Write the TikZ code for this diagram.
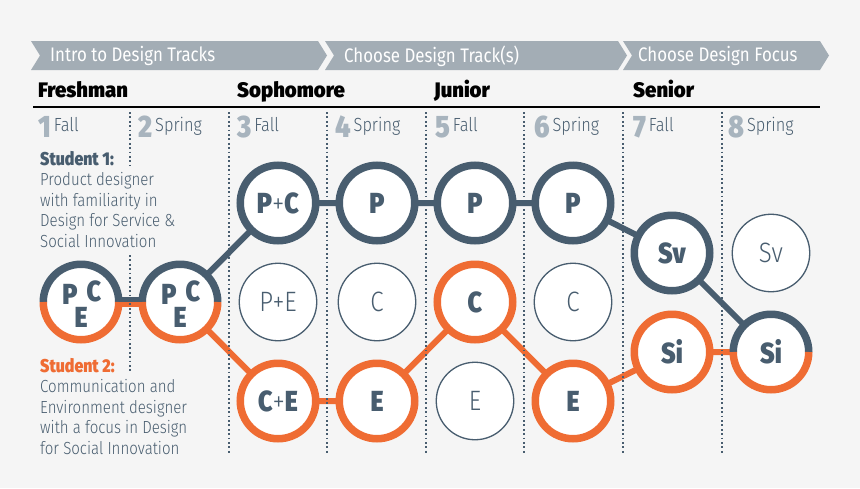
\documentclass[tikz,border=0pt]{standalone}
\usepackage{fontspec}
\setmainfont{Fira Sans}[FakeStretch=0.86]
\newfontfamily\heavyfont{Fira Sans Black}[FakeStretch=0.86]
\newfontfamily\yearfont{Fira Sans Black}[FakeStretch=0.97]
\newfontfamily\lightfont{Fira Sans Light}[FakeStretch=0.86]
\usetikzlibrary{backgrounds}

\definecolor{slate}{RGB}{72,93,111}
\definecolor{orangeb}{RGB}{239,108,51}
\definecolor{bannergrey}{RGB}{163,173,181}
\definecolor{numgrey}{RGB}{168,180,190}
\definecolor{bg}{RGB}{245,245,245}

\newcommand{\pl}{{\lightfont+}}

\tikzset{
  bannertext/.style={anchor=west, inner sep=0, text=white, font=\fontsize{19.6}{19.6}\selectfont},
  year/.style={anchor=base west, inner sep=0, font=\yearfont\fontsize{21}{21}\selectfont},
  semnum/.style={anchor=base west, inner sep=0, text=numgrey, font=\heavyfont\fontsize{31}{31}\selectfont},
  semname/.style={anchor=base west, inner sep=0, text=slate, font=\lightfont\fontsize{19}{19}\selectfont},
  sep/.style={slate, line width=1.8pt, dash pattern=on 1.8pt off 2.6pt},
  student/.style={anchor=north west, inner sep=0, align=left, text=slate, font=\lightfont\fontsize{17.5}{20.5}\selectfont},
  track/.style={circle, line width=7.5pt, fill=white, minimum size=75.5pt, inner sep=0, text=slate, font=\heavyfont\fontsize{29}{29}\selectfont},
  path1/.style={track, draw=slate},
  path2/.style={track, draw=orangeb},
  split/.style={track, outer sep=0},
  faint/.style={circle, draw=slate, line width=1.3pt, fill=white, minimum size=77.5pt, inner sep=0, text=slate, font=\lightfont\fontsize{28}{28}\selectfont},
  letter/.style={inner sep=0, text=slate, font=\heavyfont\fontsize{29}{29}\selectfont},
  link1/.style={slate, line width=6pt},
  link2/.style={orangeb, line width=6pt},
}

\begin{document}
\begin{tikzpicture}[x=1pt, y=-1pt]
\useasboundingbox (0,0) rectangle (860,488);

% banner
\foreach \a/\b in {31/318, 325/618, 623/820}
  \fill[bannergrey] (\a,41) -- (\b,41) -- (\b+9,55.5) -- (\b,70) -- (\a,70) -- (\a+9,55.5) -- cycle;
\node[bannertext] (intro) at (50,56) {Intro to Design Tracks};
\node[bannertext] (track) at (344,56) {Choose Design Track(s)};
\node[bannertext] (focus) at (638,56) {Choose Design Focus};

% years
\node[year] (fresh) at (38,97) {Freshman};
\node[year] (soph) at (237,97) {Sophomore};
\node[year] (jun) at (434,97) {Junior};
\node[year] (sen) at (633,97) {Senior};
\draw[line width=2.5pt] (33,107) -- (820,107);

% semesters
\foreach \i/\x/\s in {1/38/Fall, 2/138/Spring, 3/237/Fall, 4/335/Spring, 5/435/Fall, 6/534/Spring, 7/633/Fall, 8/728/Spring}{
  \node[semnum] (n\i) at (\x,137) {\i};
  \node[semname] (s\i) at ([xshift=2.5pt, yshift=6pt]n\i.base east) {\s};
}

% dotted separators
\foreach \x in {229,327,426,524,623,722}
  \draw[sep] (\x,112) -- (\x,455);
\draw[sep] (130,112) -- (130,166);
\draw[sep] (130,255) -- (130,372);

% students
\node[student] (stud1) at (40,151) {{\heavyfont\fontsize{18.5}{20.5}\selectfont Student 1:}\\Product designer\\with familiarity in\\Design for Service \&\\Social Innovation};
\node[student] (stud2) at (40,358) {{\heavyfont\fontsize{18.5}{20.5}\selectfont\color{orangeb}Student 2:}\\Communication and\\Environment designer\\with a focus in Design\\for Social Innovation};

% circles
\node[split] (pce1) at (81,302) {};
\node[split] (pce2) at (180,302) {};
\node[path1] (pc) at (278,203) {P\pl C};
\node[path1] (p4) at (377,203) {P};
\node[path1] (p5) at (475,203) {P};
\node[path1] (p6) at (573,203) {P};
\node[path1] (sv7) at (672,253) {Sv};
\node[faint] (sv8) at (771,253) {Sv};
\node[faint] (pe3) at (278,302) {P+E};
\node[faint] (c4) at (377,302) {C};
\node[path2] (c5) at (475,302) {C};
\node[faint] (c6) at (573,302) {C};
\node[path2] (ce3) at (278,401) {C\pl E};
\node[path2] (e4) at (377,401) {E};
\node[faint] (e5) at (475,401) {E};
\node[path2] (e6) at (573,401) {E};
\node[path2] (si7) at (672,352) {Si};
\node[split] (si8) at (771,352) {Si};

% split rings
\foreach \n in {pce1,pce2,si8}{
  \draw[slate, line width=7.5pt] (\n.east) arc[start angle=0, end angle=180, radius=37.75pt];
  \draw[orangeb, line width=7.5pt] (\n.west) arc[start angle=180, end angle=360, radius=37.75pt];
}
\foreach \n in {pce1,pce2}{
  \node[letter] at ([xshift=-11pt, yshift=8pt]\n.center) {P};
  \node[letter] at ([xshift=13pt, yshift=11pt]\n.center) {C};
  \node[letter] at ([yshift=-15pt]\n.center) {E};
}

% connectors
\begin{scope}[on background layer]
\fill[bg] (0,0) rectangle (860,488);
\draw[slate, line width=5pt] ([yshift=2.5pt]pce1.center) -- ([yshift=2.5pt]pce2.center);
\draw[orangeb, line width=5pt] ([yshift=-2.5pt]pce1.center) -- ([yshift=-2.5pt]pce2.center);
\draw[link1] (pce2.center) -- (pc.center) -- (p4.center) -- (p5.center) -- (p6.center) -- (sv7.center) -- (si8.center);
\draw[link2] (pce2.center) -- (ce3.center) -- (e4.center) -- (c5.center) -- (e6.center) -- (si7.center) -- (si8.center);
\end{scope}
\end{tikzpicture}
\end{document}
